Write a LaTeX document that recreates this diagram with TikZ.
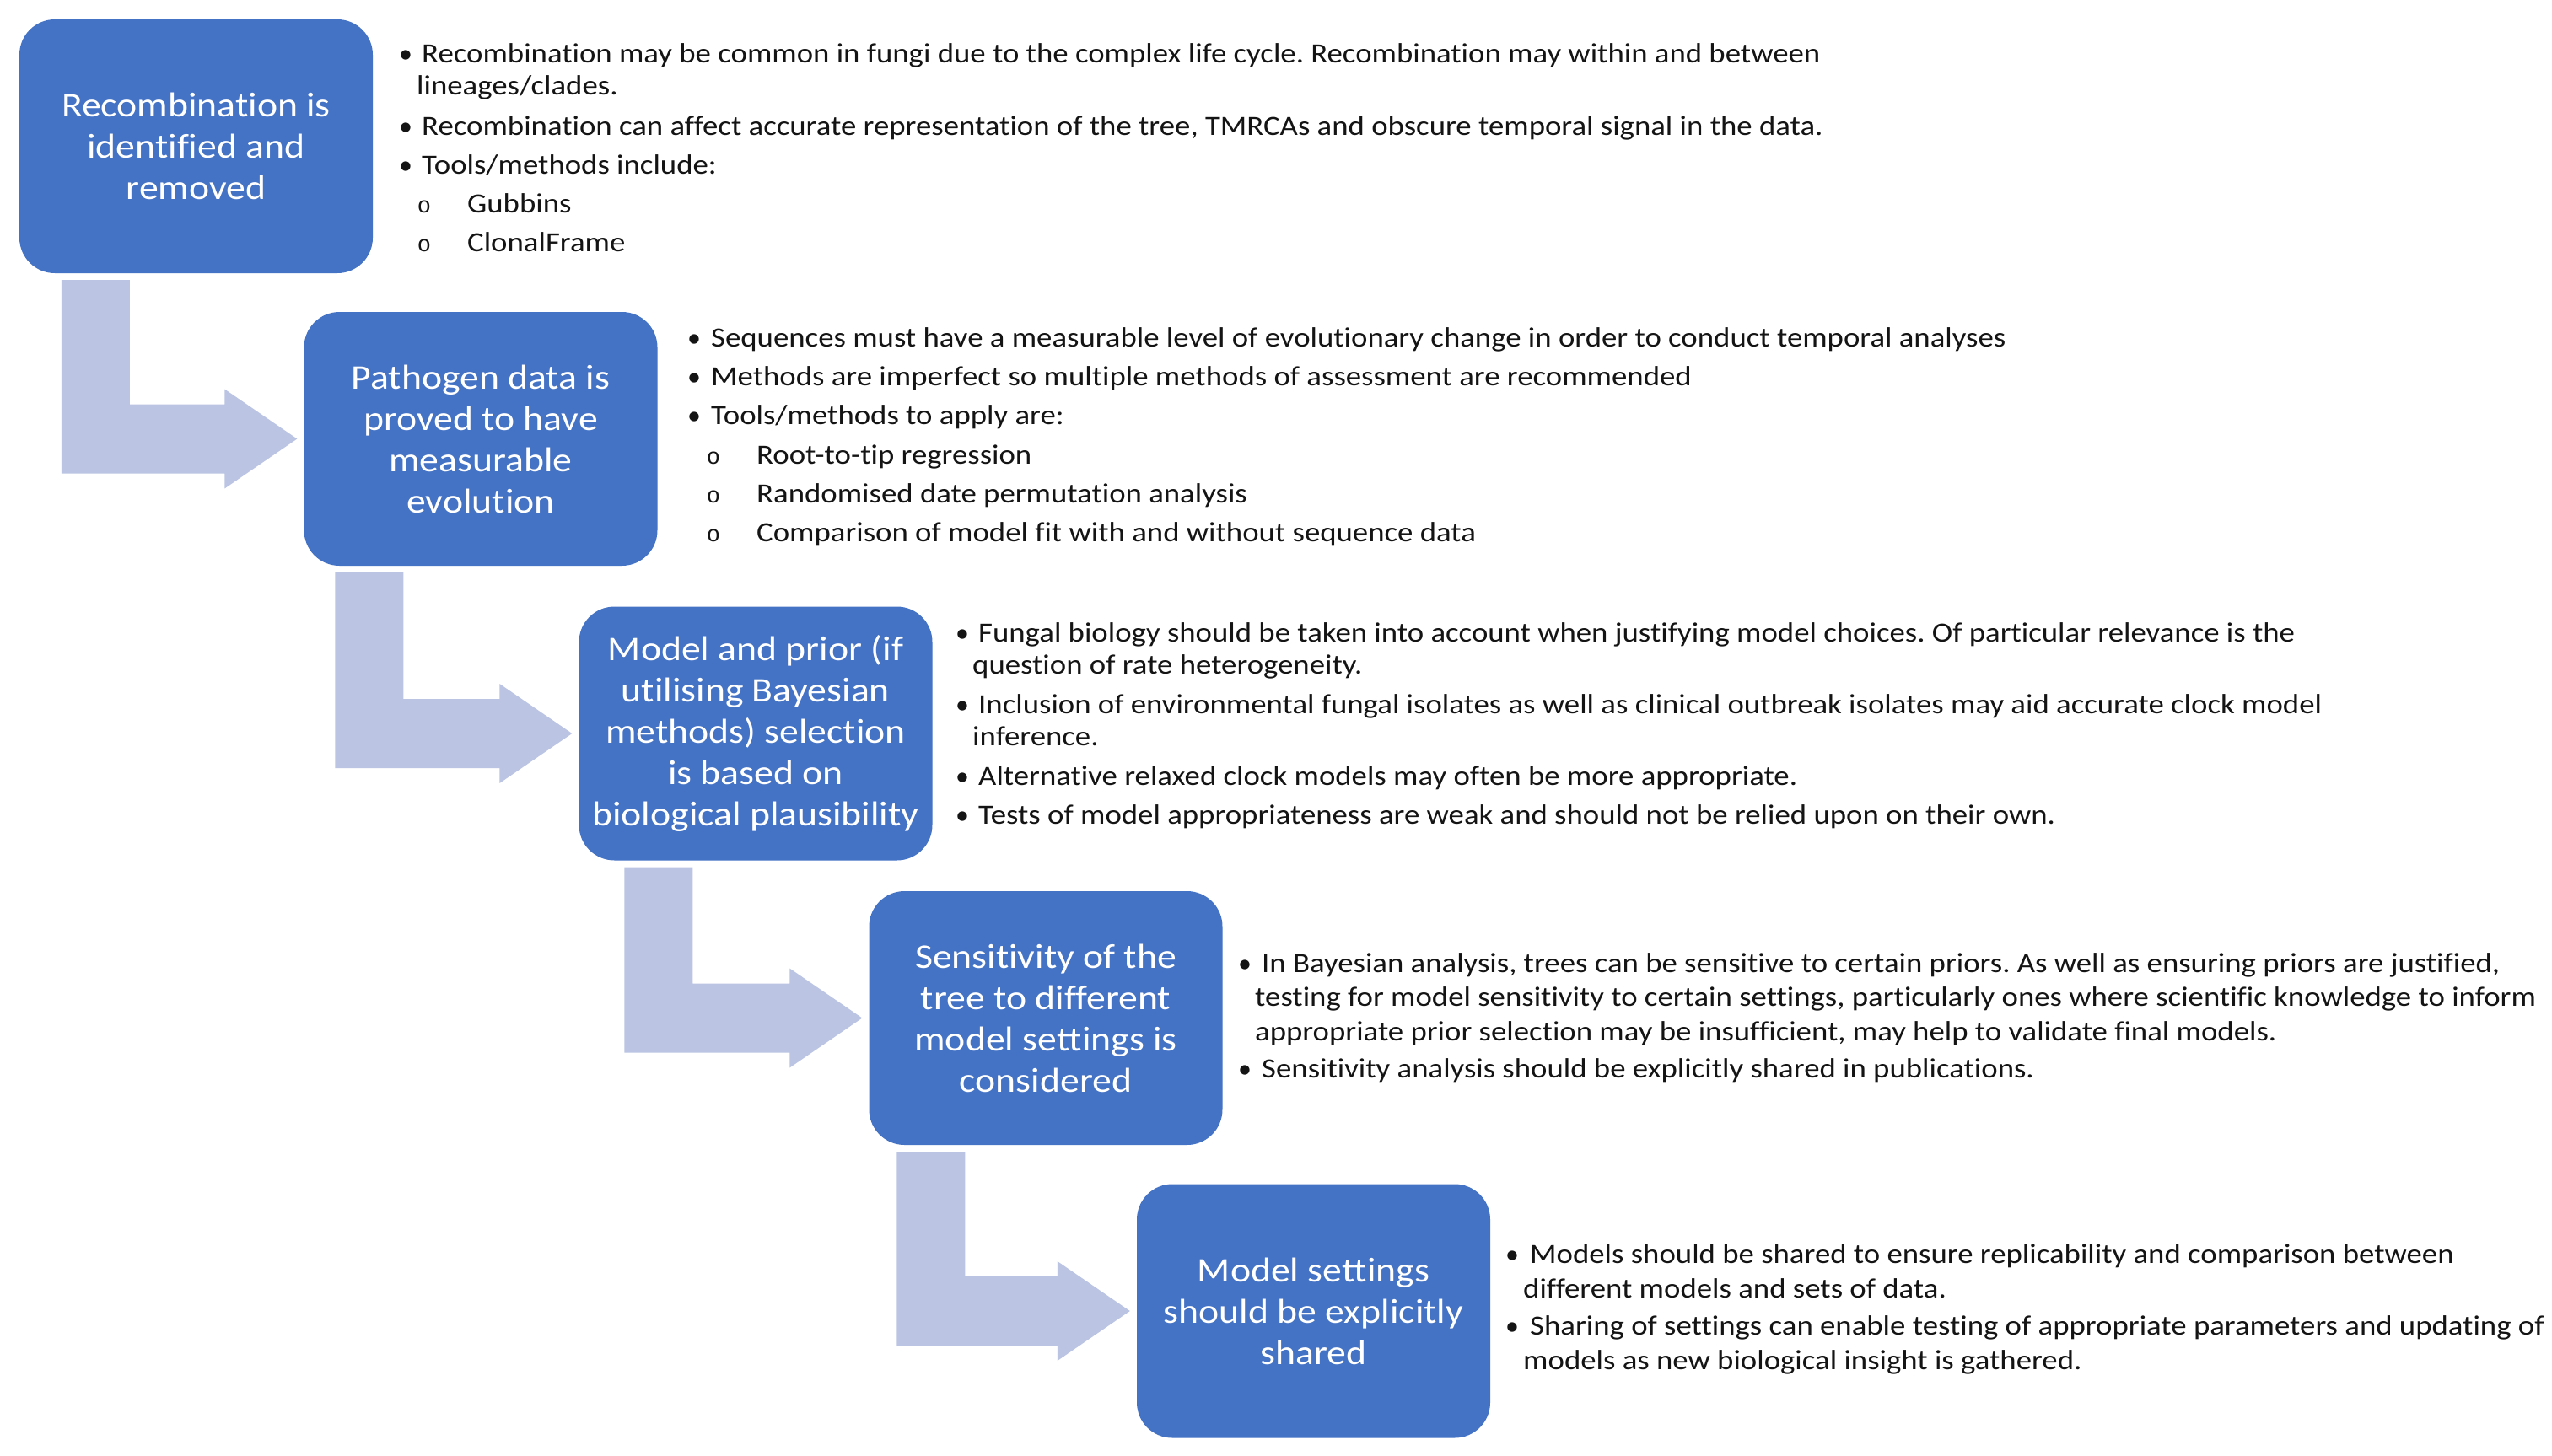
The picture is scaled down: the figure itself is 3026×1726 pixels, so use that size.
\documentclass[tikz,border=0pt]{standalone}
\usepackage{graphicx}
\usepackage{fontspec}
\setmainfont{Carlito}[Ligatures=NoCommon]
\newfontfamily\monofnt{Liberation Mono}
\usetikzlibrary{calc}
\frenchspacing
\definecolor{boxblue}{RGB}{68,114,196}
\definecolor{arrowblue}{RGB}{187,197,227}
\definecolor{bodytext}{RGB}{20,20,20}
\tikzset{
  stepbox/.style={fill=boxblue, rounded corners=42pt, minimum width=419pt, minimum height=301pt,
    inner sep=0pt, text=white, align=center, font=\fontsize{41}{49}\selectfont},
  arrowshape/.style={fill=arrowblue},
  txt/.style={anchor=base west, inner sep=0pt, text=bodytext, font=\fontsize{33}{39}\selectfont},
  bul/.style={anchor=base, inner sep=0pt, text=bodytext, font=\fontsize{32}{39}\selectfont},
  subbul/.style={anchor=base, inner sep=0pt, text=bodytext, font=\monofnt\fontsize{27}{30}\selectfont}
}
\newcommand\bx[1]{\scalebox{1.115}[1]{#1}}
\newcommand\bentarrow[3]{%
  \fill[arrowshape] ($(#1.south west)+(#3,8)$) -- ($(#1.south west)+(#3+81,8)$)
    |- ($(#2.west)+(-94,-41)$) -- ($(#2.west)+(-94,-59)$) -- ($(#2.west)+(-8,0)$)
    -- ($(#2.west)+(-94,59)$) -- ($(#2.west)+(-94,41)$)
    -| ($(#1.south west)+(#3,8)$) -- cycle;}
\newcommand\mytl[4]{\node[txt] (#1) at (#2,#3) {\scalebox{1.115}[1]{#4}};}
\newcommand\mybul[3]{\node[bul] (#1) at (#2,#3) {•};}
\newcommand\mysub[3]{\node[subbul] (#1) at (#2,#3) {o};}
\begin{document}
\begin{tikzpicture}[x=1pt, y=-1pt]
\fill[white] (0,0) rectangle (3026,1726);
\useasboundingbox (0,0) rectangle (3026,1726);

% step boxes
\node[stepbox] (b1) at (232.5,173.5) {\bx{Recombination is}\\\bx{identified and}\\\bx{removed}};
\node[stepbox] (b2) at (570,520.5) {\bx{Pathogen data is}\\\bx{proved to have}\\\bx{measurable}\\\bx{evolution}};
\node[stepbox] (b3) at (896,870) {\bx{Model and prior (if}\\\bx{utilising Bayesian}\\\bx{methods) selection}\\\bx{is based on}\\\bx{biological plausibility}};
\node[stepbox] (b4) at (1240,1207.5) {\bx{Sensitivity of the}\\\bx{tree to different}\\\bx{model settings is}\\\bx{considered}};
\node[stepbox] (b5) at (1557.5,1555) {\bx{Model settings}\\\bx{should be explicitly}\\\bx{shared}};

% bent arrows
\bentarrow{b1}{b2}{50}
\bentarrow{b2}{b3}{37}
\bentarrow{b3}{b4}{54}
\bentarrow{b4}{b5}{33}

% block 1
\mybul{p1a}{481}{75}
\mytl{t1a}{500}{75}{Recombination may be common in fungi due to the complex life cycle. Recombination may within and between}
\mytl{t1b}{494}{113}{lineages/clades.}
\mybul{p1b}{481}{160}
\mytl{t1c}{500}{160}{Recombination can affect accurate representation of the tree, TMRCAs and obscure temporal signal in the data.}
\mybul{p1c}{481}{206}
\mytl{t1d}{500}{206}{Tools/methods include:}
\mysub{s1a}{503}{252}
\mytl{t1e}{554}{252}{Gubbins}
\mysub{s1b}{503}{298}
\mytl{t1f}{554}{298}{ClonalFrame}

% block 2
\mybul{p2a}{823}{411}
\mytl{t2a}{843}{411}{Sequences must have a measurable level of evolutionary change in order to conduct temporal analyses}
\mybul{p2b}{823}{457}
\mytl{t2b}{843}{457}{Methods are imperfect so multiple methods of assessment are recommended}
\mybul{p2c}{823}{503}
\mytl{t2c}{843}{503}{Tools/methods to apply are:}
\mysub{s2a}{846}{550}
\mytl{t2d}{897}{550}{Root-to-tip regression}
\mysub{s2b}{846}{596}
\mytl{t2e}{897}{596}{Randomised date permutation analysis}
\mysub{s2c}{846}{642}
\mytl{t2f}{897}{642}{Comparison of model fit with and without sequence data}

% block 3
\mybul{p3a}{1141}{761}
\mytl{t3a}{1160}{761}{Fungal biology should be taken into account when justifying model choices. Of particular relevance is the}
\mytl{t3b}{1153}{799}{question of rate heterogeneity.}
\mybul{p3b}{1141}{846}
\mytl{t3c}{1160}{846}{Inclusion of environmental fungal isolates as well as clinical outbreak isolates may aid accurate clock model}
\mytl{t3d}{1153}{884}{inference.}
\mybul{p3c}{1141}{931}
\mytl{t3e}{1160}{931}{Alternative relaxed clock models may often be more appropriate.}
\mybul{p3d}{1141}{977}
\mytl{t3f}{1160}{977}{Tests of model appropriateness are weak and should not be relied upon on their own.}

% block 4
\mybul{p4a}{1476}{1153}
\mytl{t4a}{1496}{1153}{In Bayesian analysis, trees can be sensitive to certain priors. As well as ensuring priors are justified,}
\mytl{t4b}{1488}{1193}{testing for model sensitivity to certain settings, particularly ones where scientific knowledge to inform}
\mytl{t4c}{1488}{1234}{appropriate prior selection may be insufficient, may help to validate final models.}
\mybul{p4b}{1476}{1278}
\mytl{t4d}{1496}{1278}{Sensitivity analysis should be explicitly shared in publications.}

% block 5
\mybul{p5a}{1793}{1498}
\mytl{t5a}{1814}{1498}{Models should be shared to ensure replicability and comparison between}
\mytl{t5b}{1806}{1539}{different models and sets of data.}
\mybul{p5b}{1793}{1583}
\mytl{t5c}{1814}{1583}{Sharing of settings can enable testing of appropriate parameters and updating of}
\mytl{t5d}{1806}{1624}{models as new biological insight is gathered.}
\end{tikzpicture}
\end{document}
